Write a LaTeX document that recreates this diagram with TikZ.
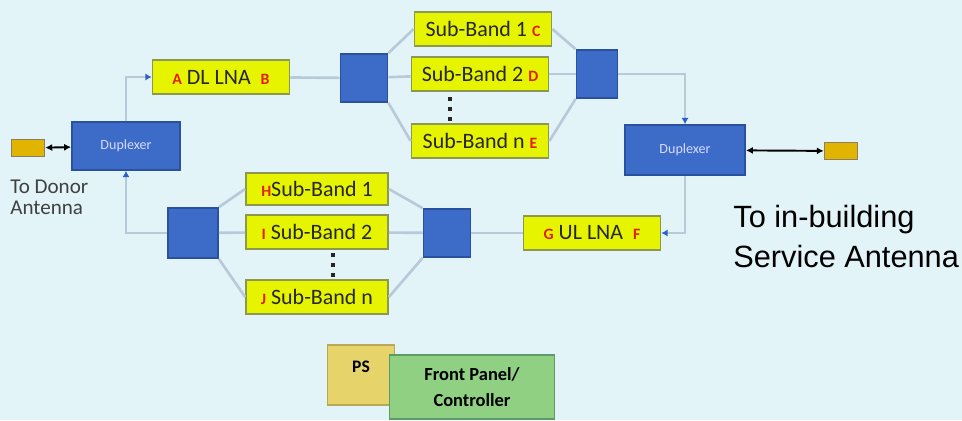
\documentclass[tikz,border=0pt]{standalone}
\usepackage{fontspec}
\usepackage{tikz}
\usetikzlibrary{arrows.meta,positioning}

\newfontfamily\boxfont{Carlito}
\newfontfamily\notefont{Liberation Sans}

\definecolor{paper}{HTML}{E2F4F7}
\definecolor{blockblue}{HTML}{3C6CC8}
\definecolor{blockline}{HTML}{2A50A0}
\definecolor{lnayellow}{HTML}{E6F400}
\definecolor{lnaline}{HTML}{8C9850}
\definecolor{feedline}{HTML}{B6CADA}
\definecolor{tipblue}{HTML}{2A60C8}
\definecolor{antgold}{HTML}{E0B400}
\definecolor{antline}{HTML}{8A8060}
\definecolor{psyellow}{HTML}{E6D36A}
\definecolor{psline}{HTML}{B8A858}
\definecolor{panelgreen}{HTML}{90D082}
\definecolor{panelline}{HTML}{5C9A6A}
\definecolor{tagred}{HTML}{E02000}

\newcommand{\portmark}[1]{{\color{tagred}\bfseries\fontsize{9}{9}\selectfont #1}}

\tikzset{
  lna/.style={draw=lnaline, fill=lnayellow, line width=1pt, inner sep=0pt,
              minimum width=2.74cm, minimum height=0.68cm,
              font=\boxfont\fontsize{12.5}{14}\selectfont, text=black!85},
  splitter/.style={draw=blockline, fill=blockblue, line width=1pt, inner sep=0pt,
                   minimum width=0.94cm, minimum height=0.96cm},
  duplexer/.style={splitter, minimum width=2.16cm, minimum height=0.96cm,
                   font=\boxfont\fontsize{8}{9}\selectfont, text=blue!15},
  antenna/.style={draw=antline, fill=antgold, line width=0.8pt, inner sep=0pt,
                  minimum width=0.66cm, minimum height=0.34cm},
  feed/.style={draw=feedline, line width=1.5pt},
  flow/.style={feed, -{Latex[length=3.5pt,width=4pt,color=tipblue]}},
  antfeed/.style={black, line width=1.1pt, {Latex[length=4pt,width=4pt]}-{Latex[length=4pt,width=4pt]}}
}

\begin{document}
\begin{tikzpicture}[x=0.02cm, y=-0.02cm]
  \fill[paper] (0,0) rectangle (962,420);
  \useasboundingbox (0,0) rectangle (962,420);

  % downlink path
  \node (donor) [antenna]  at (28,148)  {};
  \node (dupL)  [duplexer] at (126,146) {Duplexer};
  \node (dlLNA) [lna]      at (221,77)  {\portmark{A}~DL LNA~~\portmark{B}};
  \node (splitA) [splitter] at (364,78) {};
  \node (sbC)   [lna]      at (483,29)  {Sub-Band 1~\portmark{C}};
  \node (sbD)   [lna]      at (480,74)  {Sub-Band 2~\portmark{D}};
  \node (sbE)   [lna]      at (480,141) {Sub-Band n~\portmark{E}};
  \coordinate (moreA) at (450,97);
  \node (combA) [splitter, minimum width=0.82cm] at (597,74) {};
  \node (dupR)  [duplexer, minimum width=2.4cm, minimum height=1cm] at (685,150) {Duplexer};
  \node (service) [antenna] at (841,151) {};

  % uplink path
  \node (ulLNA) [lna]      at (592,233) {\portmark{G}~UL LNA~~\portmark{F}};
  \node (splitB) [splitter] at (447,233) {};
  \node (sbH)   [lna, minimum width=2.84cm, minimum height=0.64cm] at (317,189) {\portmark{H}Sub-Band 1};
  \node (sbI)   [lna, minimum width=2.84cm] at (317,232) {\portmark{I}~Sub-Band 2};
  \node (sbJ)   [lna, minimum width=2.84cm] at (317,297) {\portmark{J}~Sub-Band n};
  \coordinate (moreB) at (333,253);
  \node (combB) [splitter, minimum width=1cm, minimum height=1cm] at (193,233) {};

  % the "more bands" dots
  \foreach \c in {moreA,moreB}
    \foreach \k in {0,1,2}
      \fill[black!85] ([xshift=-1.2pt, yshift=-\k*5.6pt]\c) rectangle +(2.4pt,-2.4pt);

  % power and control
  \node (ps) [draw=psline, fill=psyellow, line width=0.8pt, minimum width=1.34cm,
              minimum height=1.2cm, inner sep=0pt] at (361,375) {};
  \node (psText) at (361,367) [font=\boxfont\bfseries\fontsize{10}{12}\selectfont] {PS};
  \node (panel) [draw=panelline, fill=panelgreen, line width=0.8pt, minimum width=3.3cm,
                 minimum height=1.28cm, align=center, inner sep=0pt,
                 font=\boxfont\bfseries\fontsize{10.5}{15}\selectfont] at (472,387)
                {Front Panel/\\Controller};

  % labels
  \node (donorText) [anchor=north west, align=left, inner sep=0pt, text=black!75,
                     font=\boxfont\fontsize{12}{11.5}\selectfont] at (10,180)
                    {To Donor\\Antenna};
  \node (serviceText) [anchor=north west, align=left, inner sep=0pt,
                       font=\notefont\fontsize{17.5}{22.5}\selectfont] at (733,205)
                      {To in-building\\Service Antenna};

  % connections
  \draw[antfeed] (donor) -- (dupL);
  \draw[antfeed] (dupR) -- (service);
  \draw[flow] (dupL.north) |- (dlLNA.west);
  \draw[feed] (dlLNA) -- (splitA);
  \draw[feed] (splitA.north east) -- (sbC.west);
  \draw[feed] (splitA) -- (sbD);
  \draw[feed] (splitA.south east) -- (sbE.west);
  \draw[feed] (sbC.east) -- (combA.north west);
  \draw[feed] (sbD) -- (combA);
  \draw[feed] (sbE.east) -- (combA.south west);
  \draw[flow] (combA.east) -| (dupR.north);
  \draw[flow] (dupR.south) |- (ulLNA.east);
  \draw[feed] (ulLNA) -- (splitB);
  \draw[feed] (splitB.north west) -- (sbH.east);
  \draw[feed] (splitB) -- (sbI);
  \draw[feed] (splitB.south west) -- (sbJ.east);
  \draw[feed] (sbH.west) -- (combB.north east);
  \draw[feed] (sbI) -- (combB);
  \draw[feed] (sbJ.west) -- (combB.south east);
  \draw[flow] (combB.west) -| (dupL.south);
\end{tikzpicture}
\end{document}
